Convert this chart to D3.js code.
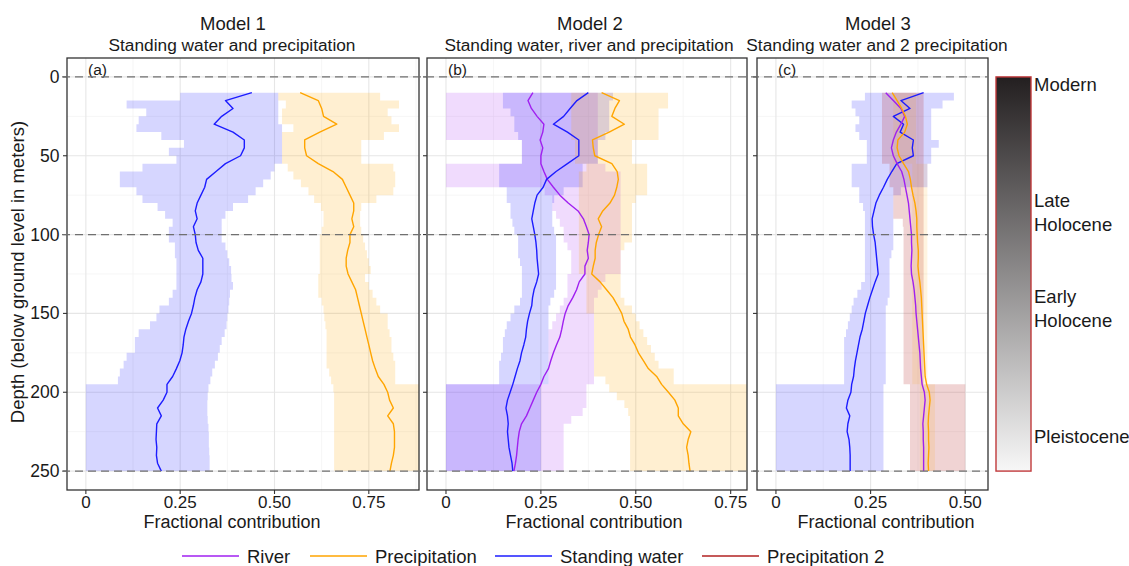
<!DOCTYPE html>
<html>
<head>
<meta charset="utf-8">
<script src="https://cdn.jsdelivr.net/npm/d3@7"></script>
<style>
  body { margin: 0; background: #ffffff; }
  svg { display: block; font-family: "Liberation Sans", Arial, Helvetica, sans-serif; }
</style>
</head>
<body>
<svg id="chart" width="1129" height="566"></svg>
<script>
// ---- depth sampling (m below ground level) ----
const depths = [10,15,20,25,30,35,40,45,50,55,60,65,70,75,80,85,90,95,100,105,110,115,120,125,130,
                135,140,145,150,155,160,165,170,175,180,185,190,195,200,205,210,215,220,225,230,235,240,245,250];

// ---- Model 1: standing water + precipitation ----
const m1WaterMean = [0.44,0.37,0.39,0.36,0.34,0.39,0.42,0.42,0.41,0.37,0.345,0.32,0.315,0.305,0.295,0.29,0.295,0.285,0.29,0.292,0.298,0.31,0.31,0.31,0.305,
                     0.295,0.289,0.285,0.28,0.272,0.265,0.26,0.258,0.255,0.249,0.24,0.23,0.215,0.215,0.205,0.19,0.2,0.188,0.187,0.186,0.188,0.187,0.19,0.2];
const m1WaterLo   = [0.25,0.108,0.16,0.14,0.134,0.2,0.26,0.22,0.24,0.15,0.09,0.09,0.134,0.15,0.19,0.21,0.23,0.22,0.22,0.236,0.236,0.24,0.24,0.24,0.24,
                     0.23,0.22,0.195,0.187,0.17,0.14,0.13,0.13,0.108,0.1,0.09,0.085,0,0,0,0,0,0,0,0,0,0,0,0];
const m1WaterHi   = [0.51,0.51,0.51,0.51,0.52,0.52,0.52,0.52,0.52,0.5,0.49,0.47,0.45,0.43,0.39,0.37,0.36,0.36,0.36,0.37,0.375,0.38,0.385,0.386,0.39,
                     0.382,0.38,0.378,0.375,0.373,0.368,0.36,0.355,0.35,0.342,0.335,0.33,0.325,0.323,0.322,0.322,0.323,0.325,0.326,0.326,0.327,0.328,0.328,0.328];
const m1PrecMean  = [0.568,0.616,0.625,0.63,0.665,0.62,0.58,0.58,0.585,0.616,0.655,0.68,0.69,0.70,0.71,0.71,0.705,0.71,0.70,0.70,0.694,0.69,0.69,0.695,0.705,
                     0.715,0.72,0.725,0.73,0.735,0.74,0.745,0.75,0.755,0.76,0.767,0.775,0.79,0.80,0.805,0.815,0.80,0.815,0.818,0.818,0.818,0.815,0.81,0.806];
const m1PrecLo    = [0.51,0.53,0.52,0.52,0.55,0.52,0.52,0.52,0.52,0.535,0.55,0.57,0.59,0.605,0.623,0.63,0.63,0.625,0.62,0.62,0.62,0.62,0.62,0.616,0.616,
                     0.616,0.625,0.63,0.632,0.635,0.638,0.638,0.638,0.638,0.638,0.645,0.65,0.656,0.658,0.658,0.658,0.658,0.658,0.658,0.658,0.658,0.658,0.658,0.658];
const m1PrecHi    = [0.78,0.83,0.80,0.81,0.83,0.79,0.73,0.73,0.73,0.815,0.82,0.82,0.815,0.77,0.73,0.727,0.727,0.73,0.735,0.74,0.745,0.75,0.755,0.74,0.75,
                     0.76,0.77,0.78,0.80,0.80,0.805,0.81,0.81,0.815,0.82,0.82,0.82,1,1,1,1,1,1,1,1,1,1,1,1];

// ---- Model 2: standing water + river + precipitation ----
const m2WaterMean = [0.375,0.345,0.327,0.31,0.283,0.32,0.35,0.35,0.35,0.32,0.29,0.265,0.256,0.24,0.234,0.23,0.226,0.23,0.234,0.237,0.239,0.24,0.242,0.244,0.239,
                     0.232,0.228,0.226,0.22,0.215,0.212,0.21,0.205,0.199,0.195,0.188,0.182,0.176,0.169,0.162,0.158,0.162,0.164,0.162,0.164,0.166,0.17,0.174,0.176];
const m2WaterLo   = [0.15,0.15,0.17,0.18,0.18,0.19,0.2,0.2,0.2,0.14,0.14,0.14,0.16,0.16,0.17,0.17,0.175,0.18,0.19,0.19,0.19,0.195,0.2,0.2,0.2,
                     0.2,0.195,0.18,0.17,0.16,0.155,0.15,0.15,0.145,0.14,0.14,0.14,0,0,0,0,0,0,0,0,0,0,0,0];
const m2WaterHi   = [0.44,0.43,0.43,0.43,0.43,0.42,0.40,0.40,0.40,0.36,0.36,0.36,0.31,0.285,0.28,0.28,0.28,0.285,0.29,0.29,0.29,0.29,0.29,0.29,0.29,
                     0.285,0.275,0.27,0.27,0.27,0.27,0.27,0.27,0.27,0.27,0.27,0.27,0.25,0.25,0.25,0.25,0.25,0.25,0.25,0.25,0.25,0.25,0.25,0.25];
const m2RiverMean = [0.229,0.216,0.225,0.24,0.258,0.255,0.248,0.255,0.25,0.25,0.258,0.267,0.283,0.30,0.322,0.348,0.362,0.37,0.377,0.375,0.372,0.375,0.366,0.366,0.351,
                     0.344,0.334,0.322,0.314,0.309,0.305,0.30,0.291,0.283,0.276,0.27,0.258,0.25,0.239,0.23,0.221,0.212,0.199,0.193,0.19,0.188,0.186,0.183,0.179];
const m2RiverLo   = [0,0,0,0,0,0,0.2,0.2,0.2,0,0,0,0.26,0.28,0.28,0.29,0.3,0.31,0.31,0.32,0.33,0.33,0.33,0.32,0.32,
                     0.32,0.31,0.30,0.29,0.28,0.27,0.27,0.27,0.27,0.27,0.27,0.27,0,0,0,0,0,0,0,0,0,0,0,0];
const m2RiverHi   = [0.40,0.40,0.40,0.40,0.40,0.40,0.40,0.40,0.40,0.42,0.46,0.46,0.46,0.46,0.46,0.46,0.46,0.46,0.46,0.46,0.46,0.46,0.46,0.42,0.41,
                     0.40,0.39,0.39,0.39,0.39,0.39,0.39,0.39,0.39,0.39,0.39,0.39,0.37,0.37,0.37,0.36,0.33,0.31,0.31,0.31,0.31,0.31,0.31,0.31];
const m2PrecMean  = [0.41,0.457,0.445,0.437,0.47,0.43,0.386,0.388,0.392,0.437,0.451,0.454,0.45,0.444,0.432,0.413,0.401,0.41,0.402,0.396,0.393,0.393,0.388,0.384,0.406,
                     0.423,0.44,0.452,0.463,0.469,0.48,0.486,0.498,0.507,0.52,0.533,0.555,0.568,0.586,0.603,0.612,0.612,0.625,0.645,0.638,0.634,0.638,0.64,0.643];
const m2PrecLo    = [0.33,0.33,0.33,0.33,0.33,0.33,0.34,0.34,0.34,0.37,0.35,0.35,0.35,0.35,0.35,0.35,0.35,0.35,0.35,0.35,0.35,0.35,0.35,0.37,0.37,
                     0.37,0.37,0.37,0.39,0.39,0.39,0.39,0.39,0.39,0.39,0.39,0.42,0.43,0.45,0.47,0.48,0.485,0.485,0.485,0.485,0.485,0.485,0.485,0.485];
const m2PrecHi    = [0.585,0.585,0.56,0.56,0.56,0.56,0.49,0.49,0.49,0.53,0.53,0.53,0.53,0.50,0.49,0.49,0.49,0.49,0.49,0.47,0.46,0.46,0.46,0.46,0.46,
                     0.46,0.47,0.49,0.50,0.51,0.52,0.53,0.54,0.55,0.56,0.60,0.60,1,1,1,1,1,1,1,1,1,1,1,1];

// ---- Model 3: standing water + 2 precipitation sources ----
const m3WaterMean = [0.39,0.33,0.354,0.31,0.337,0.328,0.363,0.36,0.363,0.319,0.306,0.294,0.284,0.273,0.264,0.259,0.254,0.255,0.258,0.262,0.264,0.266,0.268,0.27,0.262,
                     0.255,0.248,0.242,0.236,0.232,0.228,0.222,0.218,0.214,0.21,0.207,0.205,0.2,0.198,0.19,0.186,0.195,0.19,0.188,0.193,0.195,0.196,0.196,0.196];
const m3WaterLo   = [0.235,0.2,0.21,0.22,0.21,0.22,0.24,0.24,0.24,0.2,0.2,0.2,0.22,0.22,0.23,0.235,0.235,0.235,0.235,0.235,0.235,0.235,0.235,0.235,0.225,
                     0.215,0.205,0.2,0.195,0.19,0.185,0.18,0.18,0.18,0.18,0.18,0.18,0,0,0,0,0,0,0,0,0,0,0,0];
const m3WaterHi   = [0.47,0.44,0.41,0.41,0.41,0.41,0.43,0.41,0.41,0.40,0.40,0.40,0.33,0.31,0.31,0.31,0.31,0.31,0.31,0.31,0.305,0.30,0.30,0.30,0.30,
                     0.30,0.295,0.29,0.29,0.29,0.29,0.29,0.29,0.29,0.29,0.29,0.29,0.284,0.284,0.284,0.284,0.284,0.284,0.284,0.284,0.284,0.284,0.284,0.284];
const m3Prec2Mean = [0.29,0.31,0.33,0.34,0.33,0.318,0.31,0.305,0.31,0.32,0.332,0.338,0.342,0.346,0.35,0.352,0.354,0.356,0.358,0.358,0.359,0.358,0.357,0.358,0.362,
                     0.365,0.367,0.369,0.37,0.372,0.374,0.376,0.378,0.38,0.381,0.382,0.384,0.386,0.392,0.394,0.392,0.39,0.388,0.389,0.389,0.39,0.39,0.39,0.39];
const m3Prec2Lo   = [0.28,0.28,0.28,0.28,0.28,0.28,0.28,0.28,0.28,0.30,0.30,0.30,0.31,0.31,0.31,0.31,0.335,0.337,0.337,0.337,0.337,0.337,0.337,0.337,0.337,
                     0.337,0.337,0.337,0.337,0.337,0.337,0.337,0.337,0.337,0.337,0.337,0.337,0.354,0.354,0.354,0.354,0.354,0.354,0.354,0.354,0.354,0.354,0.354,0.354];
const m3Prec2Hi   = [0.39,0.39,0.39,0.39,0.39,0.39,0.39,0.39,0.39,0.39,0.39,0.39,0.39,0.39,0.39,0.39,0.39,0.39,0.39,0.39,0.39,0.39,0.39,0.39,0.39,
                     0.39,0.39,0.39,0.39,0.39,0.39,0.39,0.39,0.39,0.39,0.39,0.39,0.50,0.50,0.50,0.50,0.50,0.50,0.50,0.50,0.50,0.50,0.50,0.50];
const m3PrecMean  = [0.307,0.32,0.332,0.342,0.347,0.34,0.322,0.32,0.325,0.337,0.35,0.355,0.358,0.362,0.367,0.37,0.372,0.372,0.373,0.374,0.376,0.376,0.375,0.377,0.38,
                     0.382,0.384,0.385,0.386,0.387,0.388,0.389,0.39,0.391,0.392,0.393,0.394,0.398,0.405,0.407,0.405,0.403,0.402,0.403,0.403,0.404,0.403,0.402,0.403];
const m3PrecLo    = [0.31,0.31,0.31,0.31,0.31,0.31,0.31,0.31,0.31,0.36,0.36,0.36,0.36,0.36,0.36,0.36,0.36,0.36,0.36,0.36,0.36,0.36,0.36,0.36,0.36,
                     0.36,0.36,0.36,0.36,0.36,0.36,0.36,0.36,0.36,0.36,0.36,0.36,0.38,0.38,0.38,0.38,0.38,0.38,0.38,0.38,0.38,0.38,0.38,0.38];
const m3PrecHi    = [0.37,0.37,0.37,0.37,0.37,0.37,0.37,0.37,0.37,0.40,0.40,0.40,0.40,0.40,0.40,0.40,0.40,0.40,0.40,0.40,0.40,0.40,0.40,0.40,0.40,
                     0.40,0.40,0.40,0.40,0.40,0.40,0.40,0.40,0.40,0.40,0.40,0.40,0.42,0.42,0.42,0.42,0.42,0.42,0.42,0.42,0.42,0.42,0.42,0.42];

// ---- axis ticks, reference depths, labels ----
const depthTicks = [0, 50, 100, 150, 200, 250];
const depthMinor = [25, 75, 125, 175, 225];
const fracTicks = [0, 0.25, 0.5, 0.75];
const fracMinor = [0.125, 0.375, 0.625, 0.875];
const fracLabels = ["0", "0.25", "0.50", "0.75"];
const markerDepths = [0, 100, 250];
const periodLabels = [
  { depth: 5, lines: ["Modern"] },
  { depth: 86, lines: ["Late", "Holocene"] },
  { depth: 147, lines: ["Early", "Holocene"] },
  { depth: 228, lines: ["Pleistocene"] }
];
const legendNames = ["River", "Precipitation", "Standing water", "Precipitation 2"];

// ---- colours ----
const WATER = "#1c1cff", PREC = "#ffa500", RIVER = "#a020f0", PREC2 = "#b22222";
const legendColors = [RIVER, PREC, WATER, PREC2];

const svg = d3.select("#chart");
const defs = svg.append("defs");
const textColor = "#1a1a1a";

// shared depth scale (panel frame spans y 58..490)
const y = d3.scaleLinear().domain([-12, 262]).range([58, 490]);
const rows = arr => depths.map((d, i) => ({ d, v: arr[i] }));
const band = (lo, hi) => depths.map((d, i) => ({ d, lo: lo[i], hi: hi[i] }));

const panels = [
  { id: "a", tag: "(a)", title: "Model 1", subtitle: "Standing water and precipitation",
    left: 67, right: 419, domain: [-0.05, 0.883], titleX: 232, xTitleX: 232,
    ribbons: [ { data: band(m1WaterLo, m1WaterHi), fill: "#0000ff", op: 0.16 },
               { data: band(m1PrecLo, m1PrecHi), fill: PREC, op: 0.18 } ],
    lines: [ { data: rows(m1WaterMean), color: WATER }, { data: rows(m1PrecMean), color: PREC } ],
    tickLabels: true },
  { id: "b", tag: "(b)", title: "Model 2", subtitle: "Standing water, river and precipitation",
    left: 427, right: 747, domain: [-0.05, 0.793], titleX: 589, xTitleX: 594,
    ribbons: [ { data: band(m2RiverLo, m2RiverHi), fill: RIVER, op: 0.16 },
               { data: band(m2WaterLo, m2WaterHi), fill: "#0000ff", op: 0.16 },
               { data: band(m2PrecLo, m2PrecHi), fill: PREC, op: 0.18 } ],
    lines: [ { data: rows(m2RiverMean), color: RIVER }, { data: rows(m2WaterMean), color: WATER },
             { data: rows(m2PrecMean), color: PREC } ],
    tickLabels: false },
  { id: "c", tag: "(c)", title: "Model 3", subtitle: "Standing water and 2 precipitation",
    left: 757, right: 988, domain: [-0.05, 0.56], titleX: 877, xTitleX: 886,
    ribbons: [ { data: band(m3WaterLo, m3WaterHi), fill: "#0000ff", op: 0.16 },
               { data: band(m3Prec2Lo, m3Prec2Hi), fill: PREC2, op: 0.2 },
               { data: band(m3PrecLo, m3PrecHi), fill: PREC, op: 0.12 } ],
    lines: [ { data: rows(m3WaterMean), color: WATER }, { data: rows(m3Prec2Mean), color: RIVER },
             { data: rows(m3PrecMean), color: PREC } ],
    tickLabels: false }
];

const panelTop = y.range()[0], panelBottom = y.range()[1];

panels.forEach(p => {
  const x = d3.scaleLinear().domain(p.domain).range([p.left, p.right]);
  const inDom = v => v >= p.domain[0] && v <= p.domain[1];
  const g = svg.append("g");

  defs.append("clipPath").attr("id", "clip-" + p.id)
    .append("rect").attr("x", p.left).attr("y", panelTop)
    .attr("width", p.right - p.left).attr("height", panelBottom - panelTop);

  // grid
  const grid = g.append("g");
  grid.selectAll(".mx").data(fracMinor.filter(inDom)).join("line")
    .attr("x1", d => x(d)).attr("x2", d => x(d)).attr("y1", panelTop).attr("y2", panelBottom)
    .attr("stroke", "#f2f2f2").attr("stroke-width", 0.7);
  grid.selectAll(".my").data(depthMinor).join("line")
    .attr("x1", p.left).attr("x2", p.right).attr("y1", d => y(d)).attr("y2", d => y(d))
    .attr("stroke", "#f2f2f2").attr("stroke-width", 0.7);
  grid.selectAll(".Mx").data(fracTicks.filter(inDom)).join("line")
    .attr("x1", d => x(d)).attr("x2", d => x(d)).attr("y1", panelTop).attr("y2", panelBottom)
    .attr("stroke", "#e6e6e6").attr("stroke-width", 1.1);
  grid.selectAll(".My").data(depthTicks).join("line")
    .attr("x1", p.left).attr("x2", p.right).attr("y1", d => y(d)).attr("y2", d => y(d))
    .attr("stroke", "#e6e6e6").attr("stroke-width", 1.1);

  // uncertainty ribbons
  const area = d3.area().y(d => y(d.d)).x0(d => x(d.lo)).x1(d => x(d.hi)).curve(d3.curveStepBefore);
  const rg = g.append("g").attr("clip-path", `url(#clip-${p.id})`);
  p.ribbons.forEach(r => {
    rg.append("path").datum(r.data).attr("d", area)
      .attr("fill", r.fill).attr("fill-opacity", r.op);
  });

  // mean lines
  const line = d3.line().y(d => y(d.d)).x(d => x(d.v));
  p.lines.forEach(l => {
    rg.append("path").datum(l.data).attr("d", line)
      .attr("fill", "none").attr("stroke", l.color).attr("stroke-width", 1.4)
      .attr("stroke-linejoin", "round");
  });

  // frame
  g.append("rect").attr("x", p.left).attr("y", panelTop)
    .attr("width", p.right - p.left).attr("height", panelBottom - panelTop)
    .attr("fill", "none").attr("stroke", "#333333").attr("stroke-width", 1.3);

  // y ticks
  g.selectAll(".yt").data(depthTicks).join("line")
    .attr("x1", p.left - 4).attr("x2", p.left).attr("y1", d => y(d)).attr("y2", d => y(d))
    .attr("stroke", "#333333").attr("stroke-width", 1.1);
  if (p.tickLabels) {
    g.selectAll(".yl").data(depthTicks).join("text")
      .attr("x", p.left - 7.5).attr("y", d => y(d) + 6)
      .attr("text-anchor", "end").attr("font-size", 17.5).attr("fill", textColor)
      .text(d => d);
  }

  // x ticks + labels
  g.selectAll(".xt").data(fracTicks.filter(inDom)).join("line")
    .attr("x1", d => x(d)).attr("x2", d => x(d)).attr("y1", panelBottom).attr("y2", panelBottom + 4)
    .attr("stroke", "#333333").attr("stroke-width", 1.1);
  g.selectAll(".xl").data(fracTicks.filter(inDom)).join("text")
    .attr("x", d => x(d)).attr("y", 507.5)
    .attr("text-anchor", "middle").attr("font-size", 17).attr("fill", textColor)
    .text(d => fracLabels[fracTicks.indexOf(d)]);

  g.append("text").attr("x", p.xTitleX).attr("y", 528)
    .attr("text-anchor", "middle").attr("font-size", 18).attr("fill", textColor)
    .text("Fractional contribution");

  // titles
  g.append("text").attr("x", p.titleX + 1).attr("y", 29.5)
    .attr("text-anchor", "middle").attr("font-size", 18.5).attr("fill", textColor).text(p.title);
  g.append("text").attr("x", p.titleX).attr("y", 50.5)
    .attr("text-anchor", "middle").attr("font-size", 17.3).attr("fill", textColor).text(p.subtitle);

  // panel tag
  g.append("text").attr("x", p.left + 21).attr("y", 75)
    .attr("font-size", 15.5).attr("fill", textColor).text(p.tag);
});

// reference depths drawn across all three panels
svg.append("g").selectAll("line").data(markerDepths).join("line")
  .attr("x1", 62).attr("x2", 988).attr("y1", d => y(d)).attr("y2", d => y(d))
  .attr("stroke", "#707070").attr("stroke-width", 1.3).attr("stroke-dasharray", "8,5");

// y axis title
svg.append("text")
  .attr("transform", `translate(23.5,${(panelTop + panelBottom) / 2 - 2}) rotate(-90)`)
  .attr("text-anchor", "middle").attr("font-size", 18.5).attr("fill", textColor)
  .text("Depth (below ground level in meters)");

// age colour bar, aligned to the depth scale
const grad = defs.append("linearGradient").attr("id", "ageGrad")
  .attr("x1", 0).attr("y1", 0).attr("x2", 0).attr("y2", 1);
grad.append("stop").attr("offset", "0%").attr("stop-color", "#231f20");
grad.append("stop").attr("offset", "100%").attr("stop-color", "#f7f7f7");

svg.append("rect").attr("x", 996).attr("y", y(0))
  .attr("width", 35).attr("height", y(250) - y(0))
  .attr("fill", "url(#ageGrad)").attr("stroke", "#c0393b").attr("stroke-width", 1.4);

const pl = svg.append("g").selectAll("text").data(periodLabels).join("text")
  .attr("x", 1034).attr("font-size", 18.5).attr("fill", textColor);
pl.each(function(d) {
  const t = d3.select(this);
  const n = d.lines.length;
  d.lines.forEach((s, i) => {
    t.append("tspan").attr("x", 1034)
      .attr("y", y(d.depth) + 6.5 + (i - (n - 1) / 2) * 24)
      .text(s);
  });
});

// legend
const legendX = [182, 310, 495, 702];
const lg = svg.append("g");
legendNames.forEach((name, i) => {
  lg.append("line").attr("x1", legendX[i]).attr("x2", legendX[i] + 57)
    .attr("y1", 556).attr("y2", 556)
    .attr("stroke", legendColors[i]).attr("stroke-width", 1.4);
  lg.append("text").attr("x", legendX[i] + 65).attr("y", 563)
    .attr("font-size", 18.5).attr("fill", textColor).text(name);
});
</script>
</body>
</html>
